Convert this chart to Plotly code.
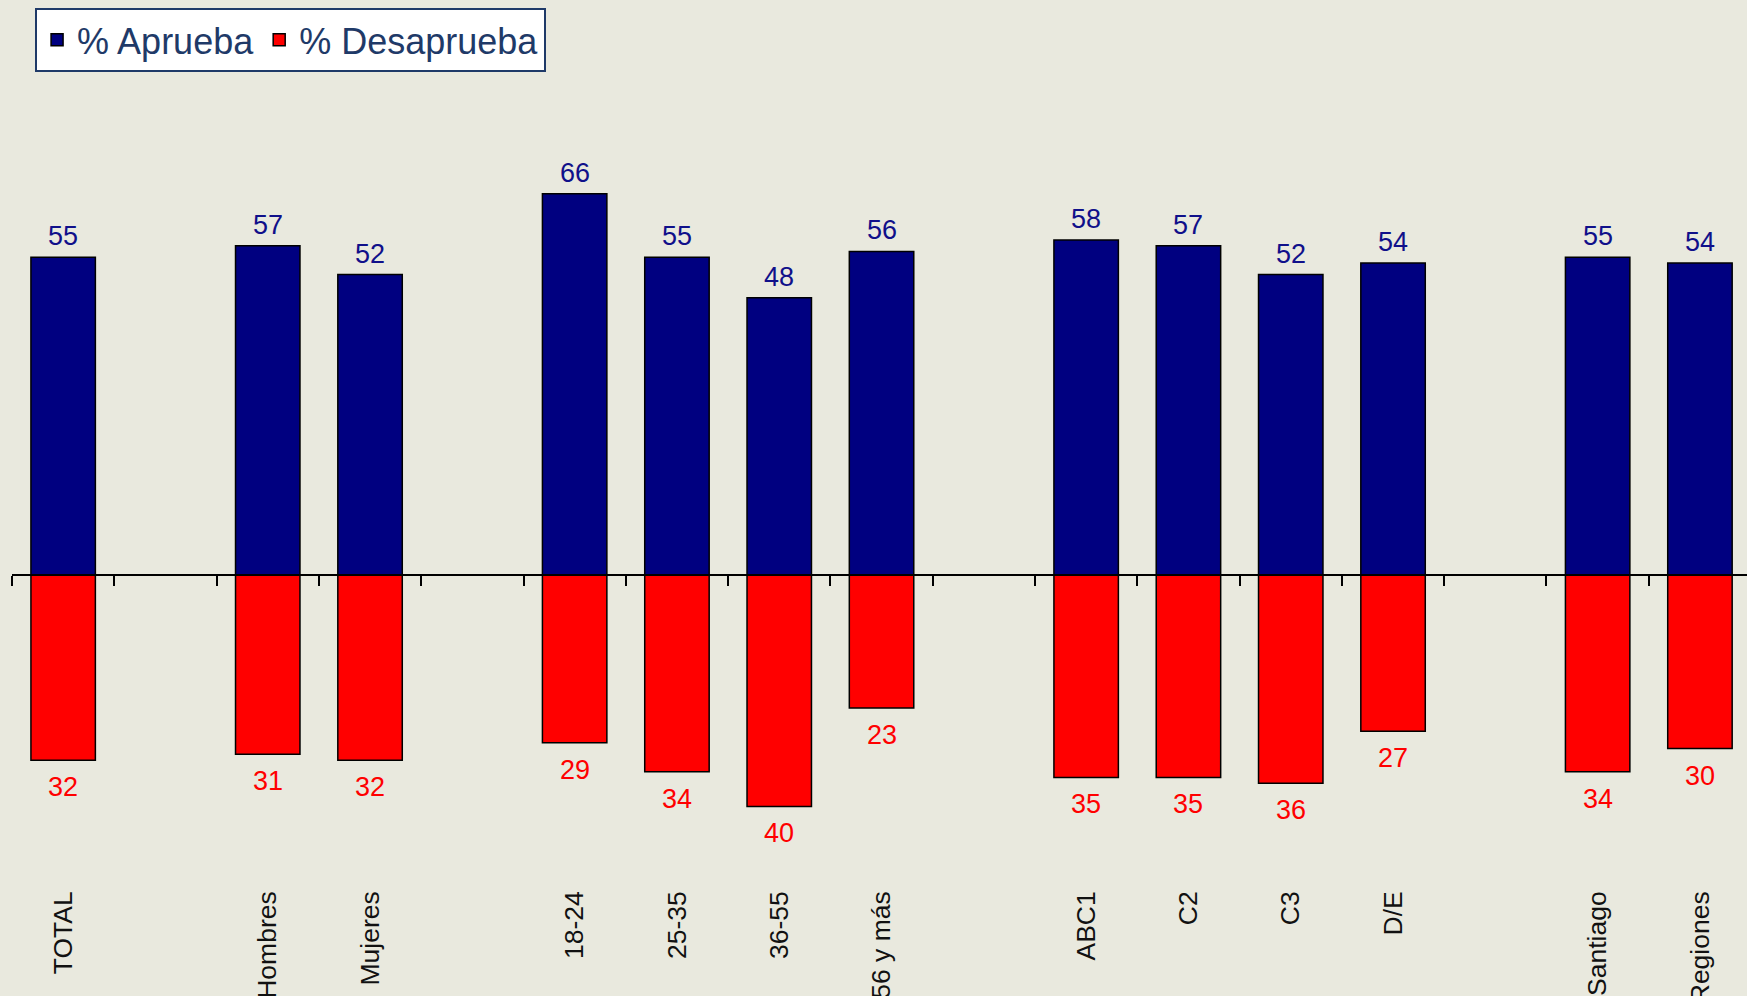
import plotly.graph_objects as go

# ---- data ----
groups = [
    ["TOTAL"],
    ["Hombres", "Mujeres"],
    ["18-24", "25-35", "36-55", "56 y más"],
    ["ABC1", "C2", "C3", "D/E"],
    ["Santiago", "Regiones"],
]
aprueba = [55, 57, 52, 66, 55, 48, 56, 58, 57, 52, 54, 55, 54]
desaprueba = [32, 31, 32, 29, 34, 40, 23, 35, 35, 36, 27, 34, 30]
series_names = ["% Aprueba", "% Desaprueba"]

# ---- positions (one empty slot between groups) ----
categories, xpos = [], []
slot = 0
for gi, g in enumerate(groups):
    for c in g:
        categories.append(c)
        xpos.append(slot)
        slot += 1
    slot += 1
n_slots = slot - 1

BLUE = "#000080"
RED = "#FF0000"
BG = "#E9E9DE"
FONT = "Liberation Sans"

fig = go.Figure()
fig.add_trace(go.Bar(
    x=xpos, y=aprueba, name=series_names[0], width=0.63,
    marker=dict(color=BLUE, line=dict(color="black", width=1.5)),
    xaxis="x", yaxis="y",
))
fig.add_trace(go.Bar(
    x=xpos, y=[-v for v in desaprueba], name=series_names[1], width=0.63,
    marker=dict(color=RED, line=dict(color="black", width=1.5)),
    xaxis="x2", yaxis="y",
))

annotations = []
for x, v in zip(xpos, aprueba):
    annotations.append(dict(x=x, y=v, xref="x", yref="y", text=str(v),
                            showarrow=False, yanchor="middle", yshift=21,
                            font=dict(family=FONT, size=27, color="#10108A")))
for x, v in zip(xpos, desaprueba):
    annotations.append(dict(x=x, y=-v, xref="x", yref="y", text=str(v),
                            showarrow=False, yanchor="middle", yshift=-27,
                            font=dict(family=FONT, size=27, color=RED)))

y_range = [-53.6, 99.5]
zero_pos = (0 - y_range[0]) / (y_range[1] - y_range[0])
x_range = [-0.5, 16.46]

fig.update_layout(
    width=1747, height=996,
    margin=dict(l=12, r=0, t=0, b=111, pad=0),
    paper_bgcolor=BG, plot_bgcolor=BG,
    barmode="overlay",
    showlegend=True,
    legend=dict(
        orientation="h", x=0.0133, y=0.991, xanchor="left", yanchor="top",
        bgcolor="white", bordercolor="#1F3A68", borderwidth=2,
        font=dict(family=FONT, size=36, color="#1F3A68"),
        itemclick=False, traceorder="normal",
    ),
    xaxis=dict(
        range=x_range, tickmode="array", tickvals=xpos, ticktext=categories,
        tickangle=-90, showline=False, ticks="", showgrid=False, zeroline=False,
        tickfont=dict(family=FONT, size=26.5, color="#111111"),
        automargin=False,
    ),
    xaxis2=dict(
        overlaying="x", anchor="free", position=zero_pos, side="bottom",
        range=x_range, tickmode="array",
        tickvals=[i - 0.5 for i in range(n_slots + 1)],
        showticklabels=False, ticks="outside", ticklen=10, tickwidth=2,
        tickcolor="black", showline=True, linecolor="black", linewidth=2,
        showgrid=False, zeroline=False, automargin=False, layer="above traces",
    ),
    yaxis=dict(range=y_range, visible=False, showgrid=False, zeroline=False),
    annotations=annotations,
)

fig.write_html(
    "out.html",
    config={"displayModeBar": False},
    post_script="document.body.style.margin='0';document.body.style.overflow='hidden';",
)
